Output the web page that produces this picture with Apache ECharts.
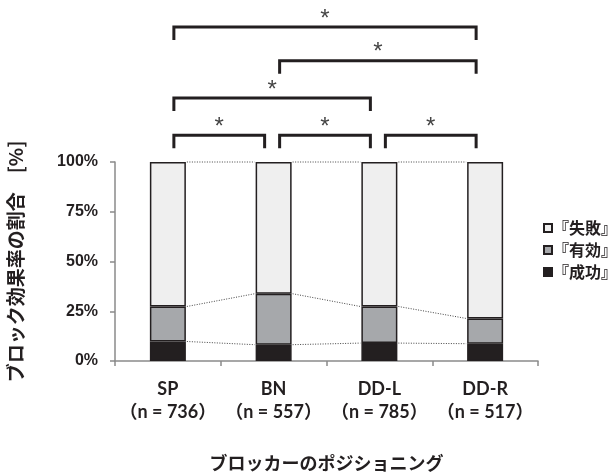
<!DOCTYPE html>
<html>
<head>
<meta charset="utf-8">
<script src="https://cdn.jsdelivr.net/npm/echarts@6/dist/echarts.min.js"></script>
<style>
  html, body { margin: 0; padding: 0; background: #fff; }
  #chart { width: 616px; height: 474px; }
</style>
</head>
<body>
<div id="chart"></div>
<script>
// Blocker positions and sample sizes
const positions = ['SP', 'BN', 'DD-L', 'DD-R'];
const sampleSizes = [736, 557, 785, 517];

// Block outcome shares per position (%)
const success = [9.8, 8.2, 9.0, 8.7];      // 『成功』
const effective = [17.6, 25.6, 18.4, 12.7]; // 『有効』
const failure = positions.map((_, i) => +(100 - success[i] - effective[i]).toFixed(1)); // 『失敗』

// Significance brackets: [from position index, to position index, bracket height in %]
const brackets = [
  [0, 1, 113.4],
  [1, 2, 113.4],
  [2, 3, 113.4],
  [0, 2, 132.2],
  [1, 3, 150.9],
  [0, 3, 167.8]
];

const yTicks = [0, 25, 50, 75, 100];

const INK = '#231f20';
const BAR_W = 36;
const JP = '"Noto Sans CJK JP", "Noto Sans", sans-serif';
const LATIN = '"Liberation Sans", Arial, sans-serif';
const LABEL = 'Lato, "Noto Sans CJK JP", sans-serif';

const chart = echarts.init(document.getElementById('chart'));

function barSeries(name, data, color) {
  return {
    name: name,
    type: 'bar',
    stack: 'share',
    barWidth: BAR_W,
    data: data,
    itemStyle: { color: color, borderColor: INK, borderWidth: 1.5 },
    emphasis: { disabled: true },
    z: 3
  };
}

// dotted connectors between neighbouring bars at each segment boundary
function connectorItem(params, api) {
  const i = api.value(0);
  if (i >= positions.length - 1) return null;
  const levelsA = [success[i], success[i] + effective[i], 100];
  const levelsB = [success[i + 1], success[i + 1] + effective[i + 1], 100];
  const children = levelsA.map((a, k) => {
    const p1 = api.coord([i, a]);
    const p2 = api.coord([i + 1, levelsB[k]]);
    return {
      type: 'line',
      shape: { x1: p1[0] + BAR_W / 2 + 1, y1: p1[1], x2: p2[0] - BAR_W / 2 - 1, y2: p2[1] },
      style: { stroke: '#444', lineWidth: 1, lineDash: [1, 1.5] }
    };
  });
  return { type: 'group', children: children };
}

function bracketItem(params, api) {
  const a = api.value(0), b = api.value(1), h = api.value(2);
  const p1 = api.coord([a, h]);
  const p2 = api.coord([b, h]);
  const x1 = p1[0] + 6, x2 = p2[0] - 9, y = p1[1];
  return {
    type: 'group',
    children: [
      {
        type: 'polyline',
        shape: { points: [[x1, y + 13], [x1, y], [x2, y], [x2, y + 13]] },
        style: { stroke: INK, lineWidth: 3, fill: null, lineJoin: 'miter' }
      },
      {
        type: 'text',
        style: {
          x: (x1 + x2) / 2, y: y - 8, text: '*',
          font: '24px ' + LATIN, fill: '#444',
          align: 'center', verticalAlign: 'middle'
        }
      }
    ]
  };
}

chart.setOption({
  animation: false,
  backgroundColor: '#fff',
  grid: { left: 115, right: 78, top: 162, bottom: 113, containLabel: false, outerBoundsMode: 'none' },
  legend: {
    orient: 'vertical',
    left: 538,
    top: 215,
    itemWidth: 8,
    itemHeight: 8,
    itemGap: 6,
    icon: 'rect',
    data: ['『失敗』', '『有効』', '『成功』'],
    textStyle: { fontFamily: JP, fontWeight: 'bold', fontSize: 16, color: INK, padding: [0, 0, 0, -4] }
  },
  xAxis: {
    type: 'category',
    data: positions,
    name: 'ブロッカーのポジショニング',
    nameLocation: 'middle',
    nameGap: 93,
    nameTextStyle: { fontFamily: JP, fontWeight: 'bold', fontSize: 18, color: INK },
    axisLine: { lineStyle: { color: '#8a8a8a', width: 1.5 } },
    axisTick: { show: true, inside: false, length: 5, alignWithLabel: false, lineStyle: { color: '#8a8a8a', width: 1.5 } },
    axisLabel: {
      interval: 0,
      margin: 17,
      fontFamily: LABEL,
      fontWeight: 'bold',
      fontSize: 18,
      lineHeight: 23,
      color: INK,
      formatter: (v, i) => v + '\n（n = ' + sampleSizes[i] + '）'
    }
  },
  yAxis: {
    type: 'value',
    min: yTicks[0],
    max: yTicks[yTicks.length - 1],
    interval: 25,
    name: 'ブロック効果率の割合　[%]',
    nameLocation: 'middle',
    nameGap: 90,
    nameRotate: 90,
    nameTextStyle: { fontFamily: JP, fontWeight: 'bold', fontSize: 19, color: INK },
    axisLine: { show: true, lineStyle: { color: '#8a8a8a', width: 1.5 } },
    axisTick: { show: true, length: 5, lineStyle: { color: '#8a8a8a', width: 1.5 } },
    splitLine: { show: false },
    axisLabel: {
      margin: 17,
      fontFamily: LATIN,
      fontWeight: 'bold',
      fontSize: 16,
      color: INK,
      formatter: '{value}%'
    }
  },
  series: [
    barSeries('『成功』', success, INK),
    barSeries('『有効』', effective, '#a6a8ab'),
    barSeries('『失敗』', failure, '#efefef'),
    {
      type: 'custom',
      name: 'connectors',
      data: positions.map((_, i) => [i, 0]),
      encode: { x: 0, y: 1 },
      renderItem: connectorItem,
      silent: true,
      z: 2
    },
    {
      type: 'custom',
      name: 'brackets',
      data: brackets,
      encode: { x: 0, y: 2 },
      renderItem: bracketItem,
      clip: false,
      silent: true,
      z: 4
    }
  ]
});
</script>
</body>
</html>
